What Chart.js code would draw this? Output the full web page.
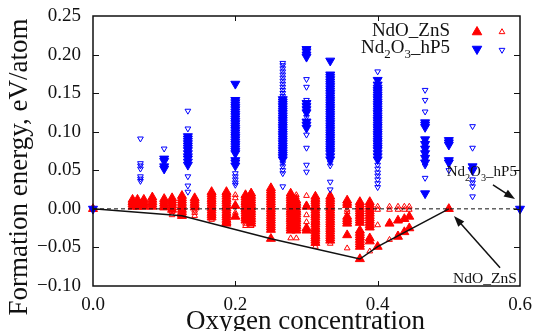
<!DOCTYPE html>
<html>
<head>
<meta charset="utf-8">
<script src="https://cdn.jsdelivr.net/npm/chart.js@4.4.1/dist/chart.umd.min.js"></script>
<style>
	html, body { margin: 0; padding: 0; background: #fff; }
	#wrap { width: 533px; height: 331px; position: relative; }
</style>
</head>
<body>
<div id="wrap"><canvas id="chart"></canvas></div>
<script>
// columns: [oxygen concentration, [formation energies eV/atom]]
const znsFilled = [
	[0, [0]],
	[1/18, [0.012, 0.009, 0.006, 0.003]],
	[1/16, [0.012, 0.009, 0.006, 0.003]],
	[1/14, [0.012, 0.009, 0.006, 0.003]],
	[1/12, [0.015, 0.012, 0.009, 0.006, 0.003]],
	[1/10, [0.013, 0.010, 0.007, 0.004, 0.002]],
	[1/9, [0.014, 0.011, 0.008, 0.005, 0.002, -0.001]],
	[1/8, [0.017, 0.014, 0.011, 0.008, 0.005, 0.002, -0.001, -0.004, -0.007, -0.009]],
	[1/7, [0.014, 0.011, 0.008, 0.005, 0.002]],
	[1/6, [0.022, 0.019, 0.016, 0.013, 0.010, 0.007, 0.004, 0.001, -0.002, -0.005, -0.008, -0.011]],
	[3/16, [0.022, 0.019, 0.016, 0.013, 0.010, 0.007, 0.004, 0.001, -0.002, -0.005, -0.008, -0.011, -0.014, -0.017, -0.019]],
	[0.2, [0.004, -0.010]],
	[3/14, [0.018, 0.015, 0.012, 0.009, 0.006, 0.003, 0.000, -0.003, -0.006, -0.009, -0.012, -0.015]],
	[2/9, [0.020, 0.017, 0.014, 0.011, 0.008, 0.005, 0.002, -0.001, -0.004, -0.007, -0.010, -0.013, -0.016, -0.019]],
	[1/4, [0.027, 0.024, 0.021, 0.018, 0.015, 0.012, 0.009, 0.006, 0.003, 0.000, -0.003, -0.006, -0.009, -0.012, -0.015, -0.018, -0.021, -0.024, -0.027, -0.0387]],
	[5/18, [0.020, 0.017, 0.014, 0.011, 0.008, 0.005, 0.002, -0.001, -0.004, -0.007, -0.010, -0.013, -0.016, -0.019, -0.022, -0.025, -0.028]],
	[2/7, [0.011, 0.008, 0.005, 0.002, -0.001, -0.004, -0.007, -0.010, -0.013, -0.016, -0.019, -0.022, -0.025, -0.028]],
	[0.3, [0.003, -0.025, -0.028]],
	[5/16, [0.016, 0.013, 0.010, 0.007, 0.004, 0.001, -0.002, -0.005, -0.008, -0.011, -0.014, -0.017, -0.020, -0.023, -0.026, -0.029, -0.032, -0.035, -0.038, -0.041, -0.044]],
	[1/3, [0.016, 0.013, 0.010, 0.007, 0.004, 0.001, -0.002, -0.005, -0.008, -0.011, -0.014, -0.017, -0.020, -0.023, -0.026, -0.029, -0.032, -0.035, -0.038, -0.041]],
	[5/14, [0.011, 0.008, 0.005, -0.010, -0.013, -0.016, -0.019, -0.034]],
	[3/8, [0.009, 0.006, 0.003, 0.000, -0.003, -0.006, -0.009, -0.012, -0.015, -0.018, -0.028, -0.031, -0.034, -0.037, -0.040, -0.043, -0.046, -0.049, -0.065]],
	[7/18, [0.009, 0.006, 0.003, 0.000, -0.003, -0.006, -0.009, -0.012, -0.015, -0.018, -0.021, -0.024, -0.038, -0.042]],
	[0.4, [-0.049]],
	[5/12, [-0.019]],
	[3/7, [-0.015, -0.036]],
	[7/16, [-0.013, -0.030]],
	[4/9, [-0.010, -0.025]],
	[0.5, [0]]
];

const znsOpen = [
	[1/9, [-0.004, -0.008]],
	[1/7, [-0.002, -0.005, -0.009]],
	[1/6, [-0.014]],
	[0.2, [0.018, 0.014, -0.005]],
	[3/14, [-0.019, -0.022]],
	[2/9, [0.022, -0.022]],
	[5/18, [-0.038]],
	[2/7, [0.018, 0.015, -0.038]],
	[0.3, [0.017, 0.006, -0.008, -0.017]],
	[5/16, [-0.049]],
	[1/3, [0.019, -0.045]],
	[5/14, [-0.001, -0.004, -0.051]],
	[7/18, [-0.055]],
	[0.4, [0.003, -0.001, -0.021]],
	[5/12, [0.003, -0.001, -0.040]],
	[3/7, [0.003, -0.001, -0.033]],
	[7/16, [0.003, -0.001]],
	[4/9, [0.003, -0.001]]
];

const hp5Filled = [
	[0, [0]],
	[0.1, [0.065, 0.062, 0.055, 0.052]],
	[2/15, [0.094, 0.091, 0.088, 0.085, 0.082, 0.079, 0.076, 0.072, 0.068, 0.065, 0.061, 0.057]],
	[0.2, [0.162, 0.141, 0.138, 0.135, 0.132, 0.129, 0.126, 0.123, 0.120, 0.117, 0.114, 0.111, 0.108, 0.105, 0.102, 0.099, 0.096, 0.093, 0.090, 0.087, 0.084, 0.081, 0.078, 0.075, 0.072, 0.063, 0.060, 0.056]],
	[4/15, [0.142, 0.139, 0.136, 0.133, 0.130, 0.127, 0.124, 0.121, 0.118, 0.115, 0.112, 0.109, 0.106, 0.103, 0.100, 0.097, 0.094, 0.091, 0.088, 0.085, 0.082, 0.079, 0.076, 0.073, 0.070, 0.067, 0.064]],
	[0.3, [0.207, 0.204, 0.200, 0.197, 0.137, 0.133, 0.129, 0.125, 0.113, 0.109, 0.105]],
	[1/3, [0.192, 0.174, 0.171, 0.168, 0.165, 0.162, 0.159, 0.156, 0.153, 0.150, 0.147, 0.144, 0.141, 0.138, 0.135, 0.132, 0.129, 0.126, 0.123, 0.120, 0.117, 0.114, 0.111, 0.108, 0.105, 0.102, 0.099, 0.096, 0.093, 0.090, 0.087, 0.084, 0.081, 0.078, 0.075, 0.072, 0.068, 0.064]],
	[0.4, [0.167, 0.161, 0.157, 0.154, 0.151, 0.148, 0.145, 0.142, 0.139, 0.136, 0.133, 0.130, 0.127, 0.124, 0.121, 0.118, 0.115, 0.112, 0.109, 0.106, 0.103, 0.100, 0.097, 0.094, 0.091, 0.088, 0.085, 0.082, 0.079, 0.076, 0.072, 0.068, 0.064]],
	[7/15, [0.112, 0.109, 0.106, 0.090, 0.084, 0.078, 0.072, 0.066, 0.060, 0.020]],
	[0.5, [0.089, 0.086, 0.083, 0.063, 0.060]],
	[8/15, [0.055, 0.050]],
	[0.6, [0]]
];

const hp5Open = [
	[1/15, [0.091, 0.059, 0.056, 0.052, 0.042, 0.039, 0.036]],
	[0.1, [0.078]],
	[2/15, [0.127, 0.104, 0.042, 0.030, 0.022]],
	[0.2, [0.046, 0.042, 0.038, 0.034, 0.031]],
	[4/15, [0.189, 0.186, 0.182, 0.178, 0.174, 0.170, 0.166, 0.162, 0.158, 0.154, 0.150, 0.146, 0.059, 0.055, 0.050, 0.046, 0.029]],
	[0.3, [0.168, 0.158, 0.141, 0.119, 0.096, 0.079, 0.057, 0.048]],
	[1/3, [0.060, 0.056, 0.035, 0.025]],
	[0.4, [0.178, 0.057, 0.052, 0.047, 0.043, 0.038, 0.033, 0.028]],
	[7/15, [0.154, 0.141, 0.126, 0.087, 0.081, 0.075, 0.069, 0.063, 0.056, 0.040]],
	[0.5, [0.050]],
	[8/15, [0.107, 0.079, 0.038, 0.034, 0.029, 0.016]]
];

// convex hull and reference line
const hullConc = [0, 1/8, 1/4, 3/8, 0.4, 0.5];
const hullEnergy = [0, -0.009, -0.0387, -0.065, -0.049, 0];
const refConc = [0, 0.6];
const refEnergy = [0, 0];

const xTicks = [0, 0.2, 0.4, 0.6];
const yTicks = [-0.10, -0.05, 0.00, 0.05, 0.10, 0.15, 0.20, 0.25];

// annotations in data coordinates
const hp5Label = { x: 0.497, y: 0.042, from: [0.562, 0.031], to: [0.593, 0.0128] };
const znsLabel = { x: 0.506, y: -0.0957, from: [0.572, -0.0762], to: [0.5072, -0.0092] };

const RED = "#ff0000";
const BLUE = "#0000ff";
const serif = '"Liberation Serif", "Times New Roman", serif';

function toPoints(cols) {
	const out = [];
	cols.forEach(c => c[1].forEach(e => out.push({ x: c[0], y: e })));
	return out;
}

function pairs(xs, ys) {
	return xs.map((x, i) => ({ x: x, y: ys[i] }));
}

// text with subscripts: parts = [[text, isSub], ...]
function richText(ctx, parts, x, y, size, align) {
	let total = 0;
	parts.forEach(p => {
		ctx.font = (p[1] ? size * 0.68 : size) + "px " + serif;
		total += ctx.measureText(p[0]).width;
	});
	let cx = align === "right" ? x - total : x;
	ctx.textAlign = "left";
	ctx.textBaseline = "alphabetic";
	parts.forEach(p => {
		ctx.font = (p[1] ? size * 0.68 : size) + "px " + serif;
		ctx.fillText(p[0], cx, p[1] ? y + size * 0.28 : y);
		cx += ctx.measureText(p[0]).width;
	});
}

function arrow(ctx, x1, y1, x2, y2) {
	const a = Math.atan2(y2 - y1, x2 - x1);
	const h = 11, w = 4;
	ctx.beginPath();
	ctx.moveTo(x1, y1);
	ctx.lineTo(x2 - Math.cos(a) * h * 0.8, y2 - Math.sin(a) * h * 0.8);
	ctx.stroke();
	ctx.beginPath();
	ctx.moveTo(x2, y2);
	ctx.lineTo(x2 - h * Math.cos(a) + w * Math.sin(a), y2 - h * Math.sin(a) - w * Math.cos(a));
	ctx.lineTo(x2 - h * Math.cos(a) - w * Math.sin(a), y2 - h * Math.sin(a) + w * Math.cos(a));
	ctx.closePath();
	ctx.fill();
}

const hp5Parts = [["Nd", false], ["2", true], ["O", false], ["3", true], ["_hP5", false]];

const decorations = {
	id: "decorations",
	afterDraw(chart) {
		const ctx = chart.ctx;
		const a = chart.chartArea;
		const xs = chart.scales.x, ys = chart.scales.y;
		ctx.save();

		// frame
		ctx.strokeStyle = "#111";
		ctx.lineWidth = 1.5;
		ctx.strokeRect(a.left, a.top, a.right - a.left, a.bottom - a.top);

		// inward tick marks on all four sides
		ctx.lineWidth = 1;
		ctx.beginPath();
		xTicks.slice(1, -1).forEach(v => {
			const px = Math.round(xs.getPixelForValue(v)) + 0.5;
			ctx.moveTo(px, a.bottom); ctx.lineTo(px, a.bottom - 5);
			ctx.moveTo(px, a.top); ctx.lineTo(px, a.top + 5);
		});
		yTicks.slice(1, -1).forEach(v => {
			const py = Math.round(ys.getPixelForValue(v)) + 0.5;
			ctx.moveTo(a.left, py); ctx.lineTo(a.left + 6, py);
			ctx.moveTo(a.right, py); ctx.lineTo(a.right - 6, py);
		});
		ctx.stroke();

		// axis titles
		ctx.fillStyle = "#111";
		ctx.font = "27px " + serif;
		ctx.textAlign = "center";
		ctx.textBaseline = "alphabetic";
		ctx.fillText("Oxygen concentration", (a.left + a.right) / 2 - 1, 329);
		ctx.save();
		ctx.translate(27, 167);
		ctx.rotate(-Math.PI / 2);
		ctx.fillText("Formation energy, eV/atom", 0, 0);
		ctx.restore();

		// legend
		richText(ctx, [["NdO_ZnS", false]], 450, 36, 19, "right");
		richText(ctx, hp5Parts, 450, 53, 19, "right");
		const H = Chart.helpers;
		ctx.fillStyle = RED; ctx.strokeStyle = RED;
		H.drawPoint(ctx, { pointStyle: "triangle", rotation: 0, radius: 5.5, borderWidth: 1 }, 477, 32);
		ctx.fillStyle = "rgba(0,0,0,0)";
		H.drawPoint(ctx, { pointStyle: "triangle", rotation: 0, radius: 3.3, borderWidth: 1 }, 502, 32);
		ctx.fillStyle = BLUE; ctx.strokeStyle = BLUE;
		H.drawPoint(ctx, { pointStyle: "triangle", rotation: 180, radius: 5.5, borderWidth: 1 }, 477, 49);
		ctx.fillStyle = "rgba(0,0,0,0)";
		H.drawPoint(ctx, { pointStyle: "triangle", rotation: 180, radius: 3.3, borderWidth: 1 }, 502, 50);

		// annotations with arrows
		ctx.fillStyle = "#111";
		ctx.strokeStyle = "#111";
		ctx.lineWidth = 1.5;
		richText(ctx, hp5Parts, xs.getPixelForValue(hp5Label.x), ys.getPixelForValue(hp5Label.y), 15, "left");
		richText(ctx, [["NdO_ZnS", false]], xs.getPixelForValue(znsLabel.x), ys.getPixelForValue(znsLabel.y), 15.5, "left");
		[hp5Label, znsLabel].forEach(l => {
			arrow(ctx, xs.getPixelForValue(l.from[0]), ys.getPixelForValue(l.from[1]),
				xs.getPixelForValue(l.to[0]), ys.getPixelForValue(l.to[1]));
		});
		ctx.restore();
	}
};

const ctx = document.getElementById("chart");

new Chart(ctx, {
	type: "scatter",
	data: {
		datasets: [
			{
				data: pairs(refConc, refEnergy),
				showLine: true,
				borderColor: "#111",
				borderWidth: 1,
				borderDash: [4, 3],
				pointRadius: 0
			},
			{
				data: pairs(hullConc, hullEnergy),
				showLine: true,
				borderColor: "#111",
				borderWidth: 1.5,
				pointRadius: 0
			},
			{
				label: "Nd2O3_hP5",
				data: toPoints(hp5Filled),
				pointStyle: "triangle",
				rotation: 180,
				pointRadius: 5.2,
				backgroundColor: BLUE,
				borderColor: BLUE,
				borderWidth: 1
			},
			{
				data: toPoints(hp5Open),
				pointStyle: "triangle",
				rotation: 180,
				pointRadius: 3.3,
				backgroundColor: "rgba(255,255,255,0)",
				borderColor: BLUE,
				borderWidth: 1
			},
			{
				label: "NdO_ZnS",
				data: toPoints(znsFilled),
				pointStyle: "triangle",
				pointRadius: 5.2,
				backgroundColor: RED,
				borderColor: RED,
				borderWidth: 1
			},
			{
				data: toPoints(znsOpen),
				pointStyle: "triangle",
				pointRadius: 3.3,
				backgroundColor: "rgba(255,255,255,0)",
				borderColor: RED,
				borderWidth: 1
			}
		]
	},
	options: {
		responsive: true,
		maintainAspectRatio: false,
		animation: false,
		events: [],
		clip: false,
		layout: { padding: { left: 0, top: 16, right: 13, bottom: 0 } },
		scales: {
			x: {
				type: "linear",
				min: 0,
				max: 0.6,
				afterFit: s => { s.height = 45; s.paddingLeft = 0; s.paddingRight = 0; },
				afterBuildTicks: s => { s.ticks = xTicks.map(v => ({ value: v })); },
				grid: { display: false, drawTicks: false },
				border: { display: false },
				ticks: {
					padding: 8,
					color: "#111",
					font: { family: serif, size: 19 },
					callback: v => v.toFixed(1)
				}
			},
			y: {
				type: "linear",
				min: -0.1,
				max: 0.25,
				afterFit: s => { s.width = 93; s.paddingTop = 0; s.paddingBottom = 0; },
				afterBuildTicks: s => { s.ticks = yTicks.map(v => ({ value: v })); },
				grid: { display: false, drawTicks: false },
				border: { display: false },
				ticks: {
					padding: 12,
					color: "#111",
					font: { family: serif, size: 19 },
					callback: v => {
						const r = Math.round(v * 100) / 100;
						return (r < 0 ? "\u2212" : "") + Math.abs(r).toFixed(2);
					}
				}
			}
		},
		plugins: {
			legend: { display: false },
			tooltip: { enabled: false }
		}
	},
	plugins: [decorations]
});
</script>
</body>
</html>
